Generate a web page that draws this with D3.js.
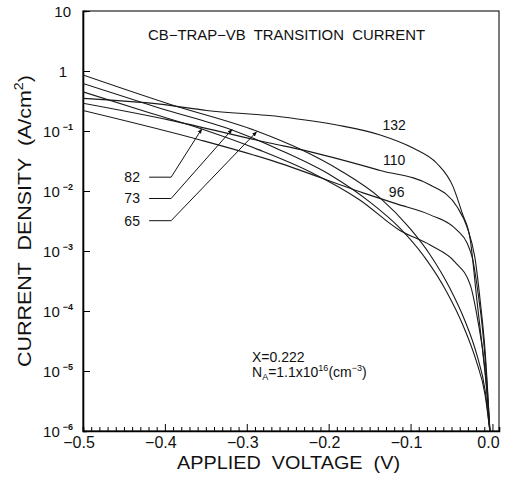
<!DOCTYPE html>
<html>
<head>
<meta charset="utf-8">
<script src="https://cdn.jsdelivr.net/npm/d3@7"></script>
<style>
  body { margin: 0; background: #fff; }
  text { font-family: "Liberation Sans", Arial, sans-serif; fill: #111; white-space: pre; }
</style>
</head>
<body>
<script>
// curve labels (temperature)
var curveNames = ["132", "110", "96", "82", "73", "65"];

// applied voltage (V) and current density (A/cm2)
var v132 = [-0.5, -0.406, -0.349, -0.259, -0.190, -0.137, -0.097, -0.068, -0.048, -0.037, -0.027, -0.019, -0.012, -0.007, -0.003];
var j132 = [3.5e-1, 2.8e-1, 2.2e-1, 1.73e-1, 1.26e-1, 8.6e-2, 5.2e-2, 2.9e-2, 1.17e-2, 4.3e-3, 1.52e-3, 1.52e-4, 2.2e-5, 4.8e-6, 9.5e-7];

var v110 = [-0.5, -0.394, -0.272, -0.231, -0.137, -0.076, -0.043, -0.031, -0.021, -0.015, -0.009, -0.003];
var j110 = [2.9e-1, 1.52e-1, 6.3e-2, 4.8e-2, 2.2e-2, 1.26e-2, 5.4e-3, 2.5e-3, 7.1e-4, 1.5e-4, 2.2e-5, 9.5e-7];

var v96 = [-0.5, -0.357, -0.272, -0.158, -0.117, -0.076, -0.043, -0.031, -0.024, -0.018, -0.012, -0.007, -0.003];
var j96 = [2.2e-1, 7.1e-2, 3.3e-2, 9.3e-3, 6.1e-3, 4.0e-3, 2.2e-3, 1.36e-3, 7.1e-4, 2.2e-4, 4.8e-5, 7.1e-6, 9.5e-7];

var v82 = [-0.5, -0.418, -0.355, -0.284, -0.223, -0.162, -0.113, -0.076, -0.046, -0.027, -0.018, -0.009, -0.003];
var j82 = [4.5e-1, 2.0e-1, 1.08e-1, 4.8e-2, 2.1e-2, 7.1e-3, 2.2e-3, 1.26e-3, 6.6e-4, 2.7e-4, 7.1e-5, 1.04e-5, 9.5e-7];

var v73 = [-0.5, -0.406, -0.318, -0.259, -0.198, -0.150, -0.113, -0.082, -0.056, -0.036, -0.020, -0.009, -0.003];
var j73 = [6.2e-1, 2.4e-1, 1.04e-1, 4.8e-2, 1.85e-2, 6.6e-3, 2.4e-3, 7.6e-4, 2.1e-4, 5.8e-5, 1.5e-5, 4.0e-6, 9.5e-7];

var v65 = [-0.5, -0.394, -0.288, -0.235, -0.186, -0.137, -0.101, -0.076, -0.052, -0.034, -0.019, -0.009, -0.003];
var j65 = [8.6e-1, 2.8e-1, 1.0e-1, 5.0e-2, 2.2e-2, 7.6e-3, 2.4e-3, 8.6e-4, 2.4e-4, 7.1e-5, 1.85e-5, 4.8e-6, 9.5e-7];

// tick labels
var xTickValues = [-0.5, -0.4, -0.3, -0.2, -0.1, 0.0];
var xTickLabels = ["\u22120.5", "\u22120.4", "\u22120.3", "\u22120.2", "\u22120.1", "0.0"];
var yDecades = [10, 1, 1e-1, 1e-2, 1e-3, 1e-4, 1e-5, 1e-6];
var yTickBase = ["10", "1", "10", "10", "10", "10", "10", "10"];
var yTickExp = ["", "", "\u22121", "\u22122", "\u22123", "\u22124", "\u22125", "\u22126"];

var w = 520, h = 483;
var pLeft = 83, pRight = 499, pTop = 11, pBottom = 431;

var svg = d3.select("body").append("svg")
  .attr("width", w)
  .attr("height", h);

var x = d3.scaleLinear().domain([-0.5, 0.008]).range([pLeft, pRight]);
var y = d3.scaleLog().domain([1e-6, 10]).range([pBottom, pTop]);

svg.append("clipPath").attr("id", "plot")
  .append("rect")
  .attr("x", pLeft).attr("y", pTop)
  .attr("width", pRight - pLeft).attr("height", pBottom - pTop);

// frame
svg.append("rect")
  .attr("x", pLeft).attr("y", pTop)
  .attr("width", pRight - pLeft).attr("height", pBottom - pTop)
  .style("fill", "none")
  .style("stroke", "#222")
  .style("stroke-width", 1.2);

// x minor ticks every 0.01, pointing up
var xMinor = d3.range(-50, 1).map(function(i) { return i / 100; });
var xAxis = svg.append("g")
  .attr("transform", "translate(0," + pBottom + ")")
  .call(d3.axisBottom(x).tickValues(xMinor).tickSize(-4).tickFormat(""));
xAxis.select(".domain").style("stroke-width", 1.6);
xAxis.selectAll(".tick line")
  .attr("y2", function(d) { return Math.abs(d * 10 - Math.round(d * 10)) < 1e-6 ? -7 : -4; });

svg.selectAll(".xlab")
  .data(xTickValues)
  .enter()
  .append("text")
  .attr("class", "xlab")
  .attr("x", function(d) { return x(d) - 4; })
  .attr("y", 448)
  .attr("text-anchor", "middle")
  .style("font-size", "16px")
  .text(function(d, i) { return xTickLabels[i]; });

// y ticks (log minors), pointing right
var yAxis = svg.append("g")
  .attr("transform", "translate(" + pLeft + ",0)")
  .call(d3.axisLeft(y).ticks(7).tickSize(-4).tickFormat(""));
yAxis.select(".domain").style("stroke-width", 1.6);
yAxis.selectAll(".tick line")
  .attr("x2", function(d) {
    var l = Math.log10(d);
    return Math.abs(l - Math.round(l)) < 1e-6 ? 7 : 4;
  });

var ylab = svg.selectAll(".ylab")
  .data(yDecades)
  .enter()
  .append("text")
  .attr("class", "ylab")
  .attr("x", function(d, i) { return i < 2 ? 71 - i * 4 : 73; })
  .attr("y", function(d) { return y(d) + 6; })
  .attr("text-anchor", "end")
  .style("font-size", "15px");
ylab.append("tspan")
  .text(function(d, i) { return yTickBase[i]; });
ylab.append("tspan")
  .attr("dx", 3)
  .attr("dy", -7)
  .style("font-size", "9px")
  .style("font-weight", "bold")
  .text(function(d, i) { return yTickExp[i]; });

// curves
var series = [
  { name: "132", v: v132, j: j132 },
  { name: "110", v: v110, j: j110 },
  { name: "96", v: v96, j: j96 },
  { name: "82", v: v82, j: j82 },
  { name: "73", v: v73, j: j73 },
  { name: "65", v: v65, j: j65 }
];

var line = d3.line()
  .x(function(d) { return x(d[0]); })
  .y(function(d) { return y(d[1]); })
  .curve(d3.curveMonotoneX);

svg.append("g")
  .attr("clip-path", "url(#plot)")
  .selectAll("path")
  .data(series)
  .enter()
  .append("path")
  .attr("d", function(s) { return line(d3.zip(s.v, s.j)); })
  .style("fill", "none")
  .style("stroke", "#1a1a1a")
  .style("stroke-width", 1.1);

// right-hand curve labels
var rightLabV = [-0.12, -0.12, -0.117];
var rightLabJ = [1.05e-1, 2.7e-2, 7.9e-3];
svg.selectAll(".rlab")
  .data(rightLabV)
  .enter()
  .append("text")
  .attr("class", "rlab")
  .attr("x", function(d) { return x(d); })
  .attr("y", function(d, i) { return y(rightLabJ[i]); })
  .attr("text-anchor", "middle")
  .style("font-size", "14px")
  .text(function(d, i) { return curveNames[i]; });

// left labels with leader arrows
var leftLabV = -0.44;
var leftLabJ = [1.7e-2, 7.5e-3, 3.2e-3];
var arrowV = [-0.355, -0.318, -0.288];
var arrowJ = [1.08e-1, 1.06e-1, 0.97e-1];

svg.append("defs").append("marker")
  .attr("id", "ah")
  .attr("viewBox", "0 0 10 10")
  .attr("refX", 9).attr("refY", 5)
  .attr("markerWidth", 5).attr("markerHeight", 5)
  .attr("orient", "auto")
  .append("path")
  .attr("d", "M0,1L10,5L0,9z")
  .style("fill", "#111");

svg.selectAll(".llab")
  .data(leftLabJ)
  .enter()
  .append("text")
  .attr("class", "llab")
  .attr("x", x(leftLabV))
  .attr("y", function(d) { return y(d) + 5; })
  .attr("text-anchor", "middle")
  .style("font-size", "14px")
  .text(function(d, i) { return curveNames[3 + i]; });

svg.selectAll(".leader")
  .data(leftLabJ)
  .enter()
  .append("path")
  .attr("class", "leader")
  .attr("d", function(d, i) {
    var x0 = x(leftLabV) + 17, y0 = y(d);
    return "M" + x0 + "," + y0 + "H" + (x0 + 22) + "L" + x(arrowV[i]) + "," + y(arrowJ[i]);
  })
  .attr("marker-end", "url(#ah)")
  .style("fill", "none")
  .style("stroke", "#111")
  .style("stroke-width", 1);

// title inside the plot
svg.append("text")
  .attr("x", 148).attr("y", 40)
  .attr("textLength", 277)
  .attr("lengthAdjust", "spacingAndGlyphs")
  .style("font-size", "14px")
  .text("CB\u2212TRAP\u2212VB  TRANSITION  CURRENT");

// parameters
svg.append("text")
  .attr("x", 252).attr("y", 362)
  .style("font-size", "14px")
  .text("X=0.222");
var na = svg.append("text")
  .attr("x", 252).attr("y", 377)
  .style("font-size", "14px");
na.append("tspan").text("N");
na.append("tspan").attr("dy", 3).style("font-size", "9px").text("A");
na.append("tspan").attr("dy", -3).text("=1.1x10");
na.append("tspan").attr("dy", -6).style("font-size", "9px").text("16");
na.append("tspan").attr("dy", 6).text("(cm");
na.append("tspan").attr("dy", -6).style("font-size", "9px").text("\u22123");
na.append("tspan").attr("dy", 6).text(")");

// axis titles
svg.append("text")
  .attr("x", 177).attr("y", 469)
  .attr("textLength", 223)
  .attr("lengthAdjust", "spacingAndGlyphs")
  .style("font-size", "18px")
  .text("APPLIED  VOLTAGE  (V)");

var yt = svg.append("text")
  .attr("transform", "translate(31,367) rotate(-90)")
  .attr("textLength", 292)
  .attr("lengthAdjust", "spacingAndGlyphs")
  .style("font-size", "18px");
yt.append("tspan").text("CURRENT  DENSITY  (A/cm");
yt.append("tspan").attr("dy", -8).style("font-size", "12px").text("2");
yt.append("tspan").attr("dy", 8).text(")");
</script>
</body>
</html>
